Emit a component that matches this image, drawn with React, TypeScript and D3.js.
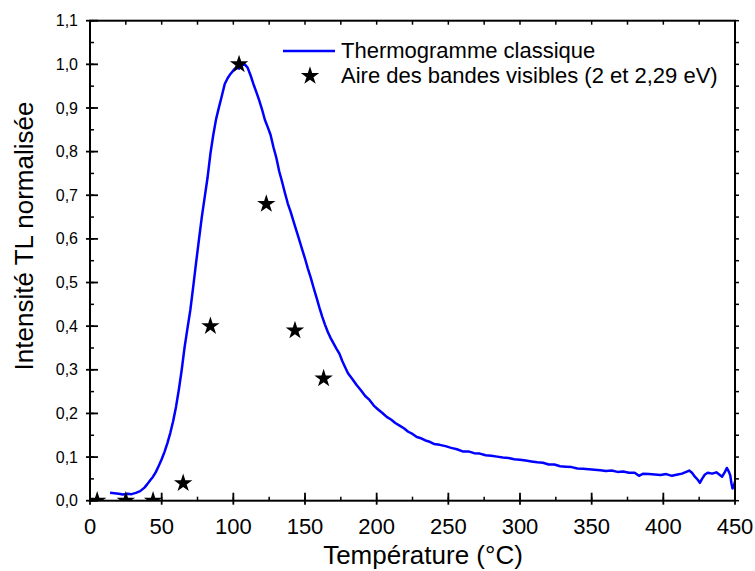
import React from "react";
import * as d3 from "d3";

const curveT = [14,17,20,23,26,29,32,35,38,40,42,44,46,48,50,52,54,56,58,60,62,64,66,68,70,72,74,76,78,80,82,84,86,88,90,92,94,96,98,100,102,104,106,108,110,112,114,116,118,120,122,124,126,128,130,132,134,136,138,140,142,144,146,148,150,152,154,156,158,160,162,164,166,168,170,172,174,176,178,180,183,186,189,192,195,198,201,204,207,210,213,216,219,222,225,228,231,234,237,240,244,248,252,256,260,264,268,272,276,280,284,288,292,296,300,304,308,312,316,320,324,328,332,336,340,344,348,352,356,360,364,368,372,376,380,383,386,390,394,398,402,406,410,413,416,418,420,422,424,425.5,427,429,431,434,437,439,441,443,444.3,445.5,446.7,447.5,448.3,449.2,450];
const curveY = [0.018,0.017,0.016,0.014,0.016,0.015,0.018,0.022,0.030,0.038,0.047,0.055,0.066,0.080,0.095,0.112,0.132,0.155,0.182,0.215,0.255,0.300,0.352,0.395,0.437,0.490,0.545,0.598,0.650,0.695,0.740,0.795,0.838,0.875,0.902,0.928,0.955,0.968,0.978,0.986,0.993,0.990,0.998,1.000,0.992,0.975,0.955,0.937,0.918,0.897,0.873,0.856,0.838,0.810,0.786,0.755,0.731,0.705,0.681,0.662,0.640,0.619,0.598,0.576,0.555,0.532,0.511,0.488,0.466,0.443,0.422,0.403,0.386,0.372,0.360,0.348,0.337,0.320,0.306,0.292,0.279,0.265,0.253,0.240,0.231,0.218,0.209,0.201,0.192,0.186,0.178,0.172,0.166,0.158,0.153,0.146,0.143,0.138,0.135,0.130,0.128,0.125,0.121,0.118,0.113,0.113,0.109,0.108,0.104,0.103,0.101,0.099,0.098,0.095,0.094,0.092,0.090,0.088,0.087,0.083,0.083,0.079,0.078,0.077,0.074,0.073,0.072,0.071,0.070,0.068,0.069,0.066,0.067,0.064,0.064,0.057,0.062,0.061,0.060,0.059,0.061,0.057,0.060,0.062,0.066,0.069,0.064,0.055,0.048,0.041,0.050,0.060,0.064,0.062,0.065,0.060,0.055,0.066,0.075,0.068,0.058,0.040,0.028,0.034,0.044];

const starT = [5,25,44,65,84,104,123,143,163];
const starY = [0,0,0,0.04,0.40,1.0,0.68,0.39,0.28];

const xTicks = [0,50,100,150,200,250,300,350,400,450];
const yTicks = [0,0.1,0.2,0.3,0.4,0.5,0.6,0.7,0.8,0.9,1.0,1.1];

const legendLabels = ["Thermogramme classique", "Aire des bandes visibles (2 et 2,29 eV)"];
const xTitle = "Température (°C)";
const yTitle = "Intensité TL normalisée";

const W = 755, H = 571;
const L = 90, R = 735, T = 20.7, B = 500.7;
const FONT = "'Liberation Sans', Arial, sans-serif";

export default function App() {
  const x = d3.scaleLinear().domain([0, 450]).range([L, R]);
  const y = d3.scaleLinear().domain([0, 1.1]).range([B, T]);
  const line = d3.line<number>().x((_, i) => x(curveT[i])).y((d) => y(d));
  const starPath = d3.symbol().type(d3.symbolStar).size(105)() as string;
  const fmt = (v: number) => v.toFixed(1).replace(".", ",");
  const xMinor = d3.range(0, 451, 25);
  const yMinor = d3.range(0, 1.1001, 0.05);

  return (
    <svg width={W} height={H} style={{ position: "absolute", left: 0, top: 0 }} fontFamily={FONT}>
      <rect width={W} height={H} fill="#fff" />
      <defs>
        <clipPath id="plot">
          <rect x={L} y={T} width={R - L} height={B - T} />
        </clipPath>
      </defs>
      <g clipPath="url(#plot)">
        <path d={line(curveY) || ""} fill="none" stroke="#0000ff" strokeWidth={2.5} strokeLinejoin="round" />
        {starT.map((t, i) => (
          <path key={i} d={starPath} transform={`translate(${x(t)},${y(starY[i])})`} fill="#000" />
        ))}
      </g>
      {xMinor.map((v, i) => (
        <g key={"xm" + i} stroke="#000" strokeWidth={1.5}>
          <line x1={x(v)} x2={x(v)} y1={B} y2={B - 4} />
          <line x1={x(v)} x2={x(v)} y1={T} y2={T + 4} />
        </g>
      ))}
      {yMinor.map((v, i) => (
        <g key={"ym" + i} stroke="#000" strokeWidth={1.5}>
          <line x1={L} x2={L + 4} y1={y(v)} y2={y(v)} />
          <line x1={R} x2={R + 4} y1={y(v)} y2={y(v)} />
        </g>
      ))}
      {xTicks.map((v, i) => (
        <g key={"xt" + i}>
          <line x1={x(v)} x2={x(v)} y1={B + 4} y2={B - 8} stroke="#000" strokeWidth={1.8} />
          <text x={x(v)} y={534} textAnchor="middle" fontSize={22} fill="#000">{v}</text>
        </g>
      ))}
      {yTicks.map((v, i) => (
        <g key={"yt" + i}>
          <line x1={L - 4} x2={L + 8} y1={y(v)} y2={y(v)} stroke="#000" strokeWidth={1.8} />
          <text x={78} y={y(v)} dy="0.35em" textAnchor="end" fontSize={16} fill="#000">{fmt(v)}</text>
        </g>
      ))}
      <rect x={L} y={T} width={R - L} height={B - T} fill="none" stroke="#000" strokeWidth={2} />
      <line x1={283} x2={335} y1={51} y2={51} stroke="#0000ff" strokeWidth={2.3} />
      <text x={341} y={58} fontSize={22} fill="#000">{legendLabels[0]}</text>
      <path d={starPath} transform="translate(310,76)" fill="#000" />
      <text x={341} y={83} fontSize={22} fill="#000">{legendLabels[1]}</text>
      <text x={423} y={564} textAnchor="middle" fontSize={26} fill="#000">{xTitle}</text>
      <text transform="translate(33,236) rotate(-90)" textAnchor="middle" fontSize={26} fill="#000">{yTitle}</text>
    </svg>
  );
}
